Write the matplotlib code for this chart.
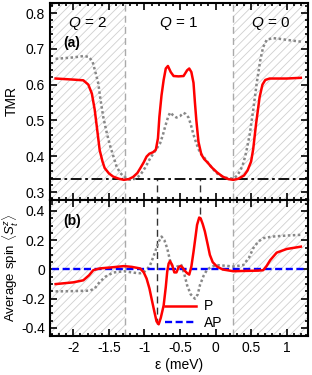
import numpy as np
import matplotlib
matplotlib.use('Agg')
import matplotlib.pyplot as plt
from matplotlib.ticker import MultipleLocator

plt.rcParams['font.family'] = ['Liberation Sans', 'DejaVu Sans']
plt.rcParams['mathtext.fontset'] = 'custom'
plt.rcParams['mathtext.rm'] = 'Liberation Sans'
plt.rcParams['mathtext.it'] = 'Liberation Sans:italic'
plt.rcParams['hatch.color'] = '#cccccc'
plt.rcParams['hatch.linewidth'] = 0.6

# (a) TMR
eps_tmr_p = [-2.25, -2.0, -1.86, -1.79, -1.74, -1.70, -1.67, -1.63, -1.59, -1.56, -1.50, -1.44,
             -1.36, -1.29, -1.22, -1.16, -1.10, -1.06, -1.01, -0.97, -0.93, -0.88, -0.84, -0.81,
             -0.79, -0.76, -0.73, -0.70, -0.67, -0.63, -0.59, -0.52, -0.45, -0.40, -0.37, -0.34,
             -0.31, -0.29, -0.27, -0.24, -0.20, -0.16, -0.12, -0.05, 0.02, 0.10, 0.18, 0.25,
             0.32, 0.40, 0.45, 0.50, 0.53, 0.57, 0.62, 0.66, 0.70, 0.76, 1.0, 1.2]
tmr_p = [0.617, 0.614, 0.612, 0.600, 0.575, 0.530, 0.482, 0.417, 0.385, 0.367, 0.352, 0.343,
         0.337, 0.334, 0.336, 0.342, 0.353, 0.366, 0.383, 0.399, 0.407, 0.411, 0.418, 0.450,
         0.510, 0.570, 0.613, 0.645, 0.652, 0.635, 0.624, 0.623, 0.624, 0.640, 0.645, 0.635,
         0.605, 0.550, 0.500, 0.440, 0.405, 0.392, 0.384, 0.368, 0.355, 0.343, 0.336, 0.334,
         0.337, 0.346, 0.360, 0.385, 0.420, 0.490, 0.565, 0.600, 0.613, 0.617, 0.617, 0.619]

eps_tmr_g = [-2.25, -2.0, -1.85, -1.78, -1.73, -1.69, -1.65, -1.62, -1.58, -1.53, -1.48, -1.43,
             -1.39, -1.34, -1.29, -1.24, -1.20, -1.13, -1.06, -0.99, -0.92, -0.85, -0.78, -0.74,
             -0.71, -0.67, -0.64, -0.60, -0.55, -0.50, -0.45, -0.42, -0.38, -0.35, -0.31, -0.27,
             -0.22, -0.17, -0.10, -0.04, 0.02, 0.10, 0.18, 0.25, 0.30, 0.35, 0.39, 0.43,
             0.48, 0.53, 0.58, 0.63, 0.67, 0.72, 0.80, 0.90, 1.0, 1.2]
tmr_g = [0.672, 0.676, 0.680, 0.677, 0.664, 0.635, 0.604, 0.560, 0.510, 0.465, 0.427, 0.395,
         0.370, 0.353, 0.343, 0.337, 0.334, 0.337, 0.347, 0.368, 0.394, 0.415, 0.436, 0.460,
         0.482, 0.508, 0.522, 0.515, 0.508, 0.512, 0.521, 0.518, 0.508, 0.490, 0.460, 0.436,
         0.410, 0.399, 0.380, 0.365, 0.352, 0.343, 0.338, 0.338, 0.345, 0.360, 0.380, 0.410,
         0.460, 0.529, 0.605, 0.669, 0.705, 0.725, 0.730, 0.728, 0.725, 0.720]

# (b) average spin
eps_s_p = [-2.25, -2.0, -1.86, -1.78, -1.72, -1.63, -1.45, -1.29, -1.18, -1.06, -1.01, -0.97,
           -0.93, -0.90, -0.86, -0.83, -0.80, -0.77, -0.73, -0.70, -0.68, -0.66, -0.64, -0.61,
           -0.58, -0.55, -0.52, -0.49, -0.46, -0.43, -0.40, -0.37, -0.34, -0.31, -0.28, -0.26,
           -0.23, -0.21, -0.18, -0.15, -0.11, -0.08, -0.04, 0.02, 0.10, 0.25, 0.40, 0.60,
           0.67, 0.72, 0.77, 0.86, 1.0, 1.2]
s_p = [-0.100, -0.088, -0.074, -0.040, -0.005, 0.007, 0.015, 0.023, 0.018, 0.007, -0.020, -0.062,
       -0.130, -0.200, -0.290, -0.355, -0.375, -0.330, -0.246, -0.120, -0.016, 0.040, 0.057, 0.030,
       -0.020, -0.020, 0.015, 0.025, 0.010, -0.010, -0.025, -0.035, 0.020, 0.120, 0.230, 0.305,
       0.355, 0.350, 0.310, 0.260, 0.170, 0.100, 0.050, 0.020, 0.000, -0.012, -0.010, -0.008,
       -0.005, 0.025, 0.064, 0.115, 0.140, 0.156]

eps_s_g = [-2.25, -2.0, -1.77, -1.70, -1.63, -1.55, -1.44, -1.29, -1.15, -1.06, -1.00, -0.95,
           -0.92, -0.88, -0.85, -0.80, -0.76, -0.72, -0.68, -0.64, -0.59, -0.54, -0.48, -0.44,
           -0.40, -0.35, -0.29, -0.25, -0.22, -0.17, -0.12, -0.05, 0.02, 0.15, 0.25, 0.39,
           0.47, 0.53, 0.60, 0.67, 0.80, 1.0, 1.2]
s_g = [-0.150, -0.148, -0.145, -0.130, -0.085, -0.050, -0.021, -0.012, -0.022, -0.026, -0.015, 0.010,
       0.030, 0.080, 0.120, 0.190, 0.225, 0.200, 0.145, 0.060, 0.000, 0.020, 0.030, -0.030,
       -0.108, -0.170, -0.200, -0.170, -0.108, -0.045, -0.002, 0.020, 0.030, 0.025, 0.020, 0.030,
       0.080, 0.145, 0.190, 0.214, 0.225, 0.232, 0.237]

eps_ap = [-2.3, 1.25]
s_ap = [0.0, 0.0]

q_edges = [-1.28, 0.25]
peak_eps = [-0.82, -0.22]
peak_s = [-0.375, 0.355]
tmr_min = 0.335
q_labels = ['$Q$ = 2', '$Q$ = 1', '$Q$ = 0']
q_pos = [-1.8, -0.52, 0.77]

xmin, xmax = -2.33, 1.30

fig = plt.figure(figsize=(3.12, 3.75), dpi=100)
ax1 = fig.add_axes([0.160, 0.467, 0.827, 0.525])
ax2 = fig.add_axes([0.160, 0.104, 0.827, 0.363], sharex=ax1)

for ax in (ax1, ax2):
    ax.axvspan(xmin, q_edges[0], facecolor='none', edgecolor='#d0d0d0', hatch='////', lw=0, zorder=0)
    ax.axvspan(q_edges[1], xmax, facecolor='none', edgecolor='#d0d0d0', hatch='////', lw=0, zorder=0)
    for e in q_edges:
        ax.axvline(e, color='#aaaaaa', lw=1.0, ls=(0, (5, 3)), zorder=1)

# top panel
ax1.axhline(tmr_min, color='black', lw=1.3, ls=(0, (6, 2, 1.5, 2)), zorder=2)
for e in peak_eps:
    ax1.plot([e, e], [0.27, tmr_min], color='#333333', lw=1.0, ls=(0, (5, 3)), zorder=1)
ax1.plot(eps_tmr_g, tmr_g, color='#888888', lw=1.8, ls=(0, (1, 1)), zorder=3)
ax1.plot(eps_tmr_p, tmr_p, color='#ff0000', lw=1.8, zorder=4)
for lab, xp in zip(q_labels, q_pos):
    ax1.text(xp, 0.771, lab, ha='center', va='center', fontsize=11)
ax1.text(-2.02, 0.715, '(a)', ha='center', va='center', fontsize=10, fontweight='bold')
ax1.set_ylim(0.278, 0.828)
ax1.set_ylabel('TMR', fontsize=10, va='center')
ax1.yaxis.set_label_coords(-0.148, 0.5)
ax1.yaxis.set_minor_locator(MultipleLocator(0.02))
ax1.set_yticks([0.3, 0.4, 0.5, 0.6, 0.7, 0.8])
ax1.set_yticklabels(['0.3', '0.4', '0.5', '0.6', '0.7', '0.8'])
ax1.tick_params(labelbottom=False)

# bottom panel
for e, sv in zip(peak_eps, peak_s):
    ax2.plot([e, e], [0.5, sv], color='#333333', lw=1.0, ls=(0, (5, 3)), zorder=1)
ax2.plot(eps_s_g, s_g, color='#888888', lw=1.8, ls=(0, (1, 1)), zorder=3)
ax2.plot(eps_ap, s_ap, color='#0000ff', lw=1.7, ls=(0, (3, 1.5)), zorder=4, label='AP')
ax2.plot(eps_s_p, s_p, color='#ff0000', lw=1.8, zorder=5, label='P')
h, l = ax2.get_legend_handles_labels()
ax2.legend(h[::-1], l[::-1], loc='upper left', bbox_to_anchor=(0.41, 0.34), frameon=False,
           fontsize=10, handlelength=2.2, handletextpad=0.6, labelspacing=0.15, borderpad=0.2)
ax2.text(-2.02, 0.333, '(b)', ha='center', va='center', fontsize=10, fontweight='bold')
ax2.set_ylim(-0.455, 0.476)
ax2.set_xlim(xmin, xmax)
ax2.set_ylabel(r'Average spin $\langle S_t^z\rangle$', fontsize=9.5, va='center')
ax2.yaxis.set_label_coords(-0.152, 0.5)
ax2.set_xlabel('ε (meV)', fontsize=10, labelpad=2)
ax2.yaxis.set_minor_locator(MultipleLocator(0.05))
ax2.set_yticks([-0.4, -0.2, 0, 0.2, 0.4])
ax2.set_yticklabels(['-0.4', '-0.2', '0', '0.2', '0.4'])
ax2.xaxis.set_minor_locator(MultipleLocator(0.1))
ax2.set_xticks([-2, -1.5, -1, -0.5, 0, 0.5, 1])
ax2.set_xticklabels(['-2', '-1.5', '-1', '-0.5', '0', '0.5', '1'])

for ax in (ax1, ax2):
    for s in ax.spines.values():
        s.set_linewidth(1.5)
    ax.tick_params(which='both', direction='in', top=True, right=True, labelsize=10, width=1.2)
    ax.tick_params(which='major', length=5)
    ax.tick_params(which='minor', length=2.5)

fig.savefig('out.png', dpi=100)
